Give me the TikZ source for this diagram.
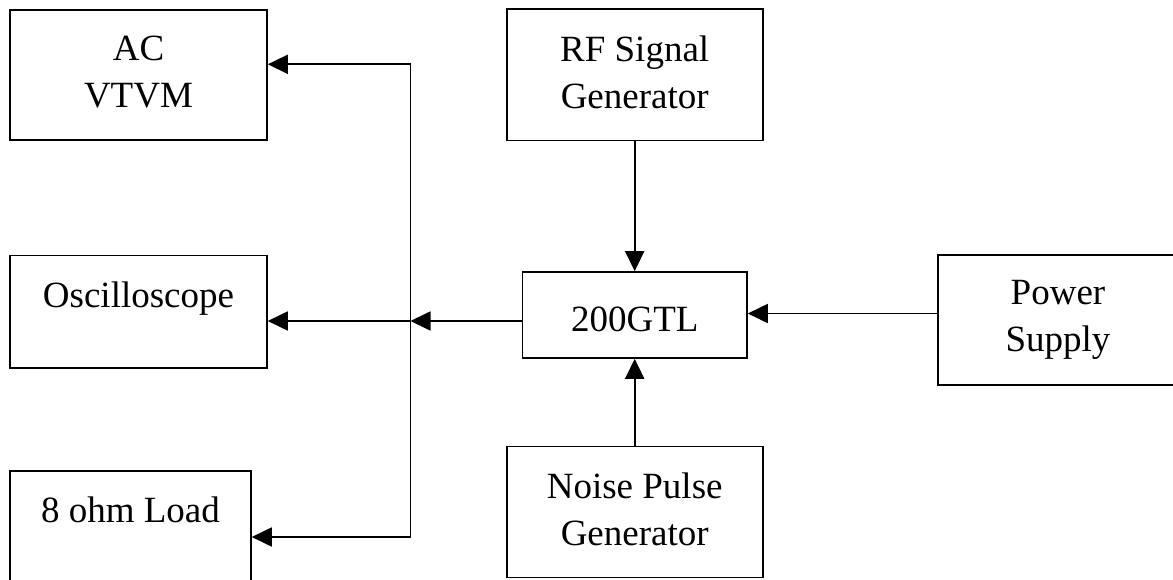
\documentclass[tikz,border=0pt]{standalone}
\usepackage{fontspec}
\setmainfont{Liberation Serif}
\usetikzlibrary{arrows.meta}
\newcommand\twolines[2]{\begin{tabular}[t]{@{}c@{}}#1\\#2\end{tabular}}
\tikzset{
  blk/.style={draw, line width=1.6pt, inner sep=0pt, rectangle,
    font=\fontsize{37}{47}\selectfont},
  arr/.style={line width=1.8pt, -{Triangle[length=20pt,width=19pt]}},
  wire/.style={line width=1.8pt}
}
\begin{document}
\begin{tikzpicture}[x=1pt,y=-1pt]
\useasboundingbox (0,0) rectangle (1173,580);
\fill[white] (0,0) rectangle (1173,580);
% boxes (centre, size)
\node[blk, minimum width=257pt, minimum height=130pt, text height=0pt, text depth=28pt]
  (ac) at (138.5,75) {\twolines{AC}{VTVM}};
\node[blk, minimum width=257pt, minimum height=112.5pt, text height=0pt, text depth=9.5pt]
  (osc) at (138.5,311.75) {Oscilloscope};
\node[blk, minimum width=241pt, minimum height=130pt, text height=0pt, text depth=28pt]
  (load) at (130.5,536) {8 ohm Load};
\node[blk, minimum width=256pt, minimum height=131.7pt, text height=0pt, text depth=26.9pt]
  (rf) at (634.7,74.85) {\twolines{RF Signal}{Generator}};
\node[blk, minimum width=224.5pt, minimum height=86pt, text height=32pt, text depth=0pt]
  (gtl) at (634.75,315) {200GTL};
\node[blk, minimum width=256pt, minimum height=131pt, text height=0pt, text depth=26.8pt]
  (noise) at (634.7,512.1) {\twolines{Noise Pulse}{Generator}};
\node[blk, minimum width=240pt, minimum height=130pt, text height=0pt, text depth=30pt]
  (pwr) at (1058,320) {\twolines{Power}{Supply}};
% junction points on the bus
\coordinate (j) at (410.5,321);
\coordinate (jtop) at (410.5,64.3);
\coordinate (jbot) at (410.5,537);
% connectors
\draw[arr] (gtl.west |- j) -- (j);
\draw[arr] (j) -- (j -| osc.east);
\draw[wire] (jtop) -- (jbot);
\draw[arr] (jtop) -- (jtop -| ac.east);
\draw[arr] (jbot) -- (jbot -| load.east);
\draw[arr] (rf.south) -- (rf.south |- gtl.north);
\draw[arr] (noise.north) -- (noise.north |- gtl.south);
\draw[arr] ([yshift=6.5pt]pwr.west) -- ([yshift=6.5pt]pwr.west -| gtl.east);
\end{tikzpicture}
\end{document}
